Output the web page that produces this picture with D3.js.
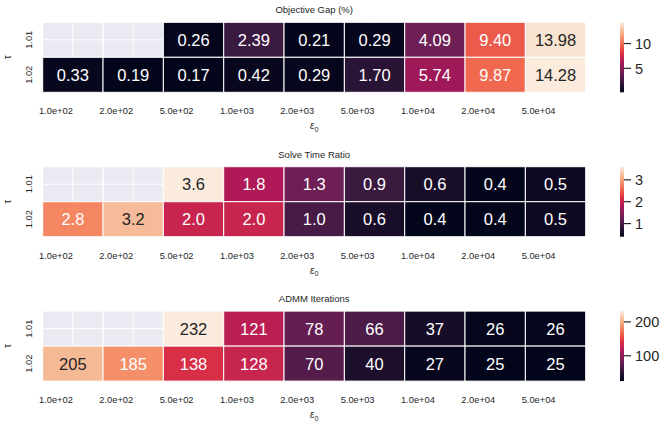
<!DOCTYPE html>
<html><head><meta charset="utf-8">
<script src="https://cdn.jsdelivr.net/npm/d3@7"></script>
<style>
html,body{margin:0;padding:0;background:#fff;}
svg{display:block;font-family:"Liberation Sans",Arial,sans-serif;}
</style></head>
<body><svg id="chart" width="668" height="425"></svg>
<script>
// ---- data ----
const epsLabels = ["1.0e+02","2.0e+02","5.0e+02","1.0e+03","2.0e+03","5.0e+03","1.0e+04","2.0e+04","5.0e+04"];
const tauLabels = ["1.01","1.02"];
const gap101 = [NaN, NaN, 0.26, 2.39, 0.21, 0.29, 4.09, 9.40, 13.98];
const gap102 = [0.33, 0.19, 0.17, 0.42, 0.29, 1.70, 5.74, 9.87, 14.28];
const time101 = [NaN, NaN, 3.6, 1.8, 1.3, 0.9, 0.6, 0.4, 0.5];
const time102 = [2.8, 3.2, 2.0, 2.0, 1.0, 0.6, 0.4, 0.4, 0.5];
const iter101 = [NaN, NaN, 232, 121, 78, 66, 37, 26, 26];
const iter102 = [205, 185, 138, 128, 70, 40, 27, 25, 25];
const titles = ["Objective Gap (%)", "Solve Time Ratio", "ADMM Iterations"];
const cbTicks = [[5, 10], [1, 2, 3], [100, 200]];
const formats = [".2f", ".1f", "d"];

// rocket colormap approximation
const rocketStops = ["#03051a","#35193e","#701f57","#ad1759","#e13342","#f37651","#f6b48f","#faebdd"];
const rocket = d3.piecewise(d3.interpolateRgb, rocketStops);

const panels = [
  {title: titles[0], rows: [gap101, gap102], ticks: cbTicks[0], fmt: formats[0]},
  {title: titles[1], rows: [time101, time102], ticks: cbTicks[1], fmt: formats[1]},
  {title: titles[2], rows: [iter101, iter102], ticks: cbTicks[2], fmt: formats[2]}
];

const svg = d3.select("#chart");
const defs = svg.append("defs");
const textCol = "#262626";
const L = 42.7, R = 585.7, H = 70, tops = [22.3, 166.7, 311.1];
const cbX = 620, cbW = 4;

function lum(c) {
  const rgb = d3.rgb(c);
  const f = v => { v /= 255; return v <= 0.03928 ? v / 12.92 : Math.pow((v + 0.055) / 1.055, 2.4); };
  return 0.2126 * f(rgb.r) + 0.7152 * f(rgb.g) + 0.0722 * f(rgb.b);
}

panels.forEach((p, pi) => {
  const top = tops[pi];
  const g = svg.append("g");
  const x = d3.scaleBand().domain(epsLabels).range([L, R]).padding(0);
  const y = d3.scaleBand().domain(tauLabels).range([top, top + H]).padding(0);
  const all = p.rows.flat().filter(v => !isNaN(v));
  const ext = d3.extent(all);
  const color = d3.scaleSequential(rocket).domain(ext);

  // background + grid
  g.append("rect").attr("x", L).attr("y", top).attr("width", R - L).attr("height", H).attr("fill", "#eaeaf2");
  epsLabels.forEach(e => {
    const cx = x(e) + x.bandwidth() / 2;
    g.append("line").attr("x1", cx).attr("x2", cx).attr("y1", top).attr("y2", top + H)
      .attr("stroke", "#fff").attr("stroke-width", 1);
  });
  tauLabels.forEach(t => {
    const cy = y(t) + y.bandwidth() / 2;
    g.append("line").attr("x1", L).attr("x2", R).attr("y1", cy).attr("y2", cy)
      .attr("stroke", "#fff").attr("stroke-width", 1);
  });

  // cells
  const cells = [];
  p.rows.forEach((row, ri) => row.forEach((v, ci) => cells.push({r: tauLabels[ri], c: epsLabels[ci], v})));
  g.selectAll("rect.cell").data(cells).join("rect").attr("class", "cell")
    .attr("x", d => x(d.c)).attr("y", d => y(d.r))
    .attr("width", x.bandwidth()).attr("height", y.bandwidth())
    .attr("fill", d => isNaN(d.v) ? "none" : color(d.v))
    .attr("stroke", "#fff").attr("stroke-width", 1);
  const fmt = d3.format(p.fmt);
  g.selectAll("text.ann").data(cells.filter(d => !isNaN(d.v))).join("text").attr("class", "ann")
    .attr("x", d => x(d.c) + x.bandwidth() / 2).attr("y", d => y(d.r) + y.bandwidth() / 2)
    .attr("dy", "0.36em").attr("text-anchor", "middle").attr("font-size", 16.5)
    .attr("fill", d => lum(color(d.v)) > 0.408 ? textCol : "#ffffff")
    .text(d => fmt(d.v));

  // title
  g.append("text").attr("x", (L + R) / 2).attr("y", top - 9).attr("text-anchor", "middle")
    .attr("font-size", 9.5).attr("fill", textCol).text(p.title);

  // x tick labels
  g.selectAll("text.xt").data(epsLabels).join("text").attr("class", "xt")
    .attr("x", d => x(d) + x.bandwidth() / 2).attr("y", top + H + 22)
    .attr("text-anchor", "end").attr("font-size", 9.3).attr("fill", textCol).text(d => d);
  // x label
  const xl = g.append("text").attr("x", (L + R) / 2).attr("y", top + H + 37).attr("text-anchor", "middle")
    .attr("font-size", 10).attr("fill", textCol);
  xl.append("tspan").attr("font-style", "italic").text("ε");
  xl.append("tspan").attr("font-size", 7).attr("dy", 2.5).text("0");

  // y tick labels
  tauLabels.forEach(t => {
    const cy = y(t) + y.bandwidth() / 2;
    g.append("text").attr("transform", `translate(${L - 11},${cy}) rotate(-90)`)
      .attr("text-anchor", "middle").attr("font-size", 9.3).attr("fill", textCol).text(t);
  });
  // y label
  g.append("text").attr("transform", `translate(11,${top + H / 2}) rotate(-90)`)
    .attr("text-anchor", "middle").attr("font-size", 10).attr("fill", textCol).text("τ");

  // colorbar
  const gid = "grad" + pi;
  const grad = defs.append("linearGradient").attr("id", gid).attr("x1", 0).attr("x2", 0).attr("y1", 1).attr("y2", 0);
  d3.range(0, 1.0001, 0.05).forEach(t => grad.append("stop").attr("offset", t).attr("stop-color", rocket(t)));
  g.append("rect").attr("x", cbX).attr("y", top).attr("width", cbW).attr("height", H).attr("fill", `url(#${gid})`);
  const cy = d3.scaleLinear().domain(ext).range([top + H, top]);
  p.ticks.forEach(t => {
    g.append("line").attr("x1", cbX + cbW).attr("x2", cbX + cbW + 7).attr("y1", cy(t)).attr("y2", cy(t))
      .attr("stroke", textCol).attr("stroke-width", 1.2);
    g.append("text").attr("x", cbX + cbW + 11).attr("y", cy(t)).attr("dy", "0.36em")
      .attr("font-size", 14.5).attr("fill", textCol).text(t);
  });
});
</script></body></html>
